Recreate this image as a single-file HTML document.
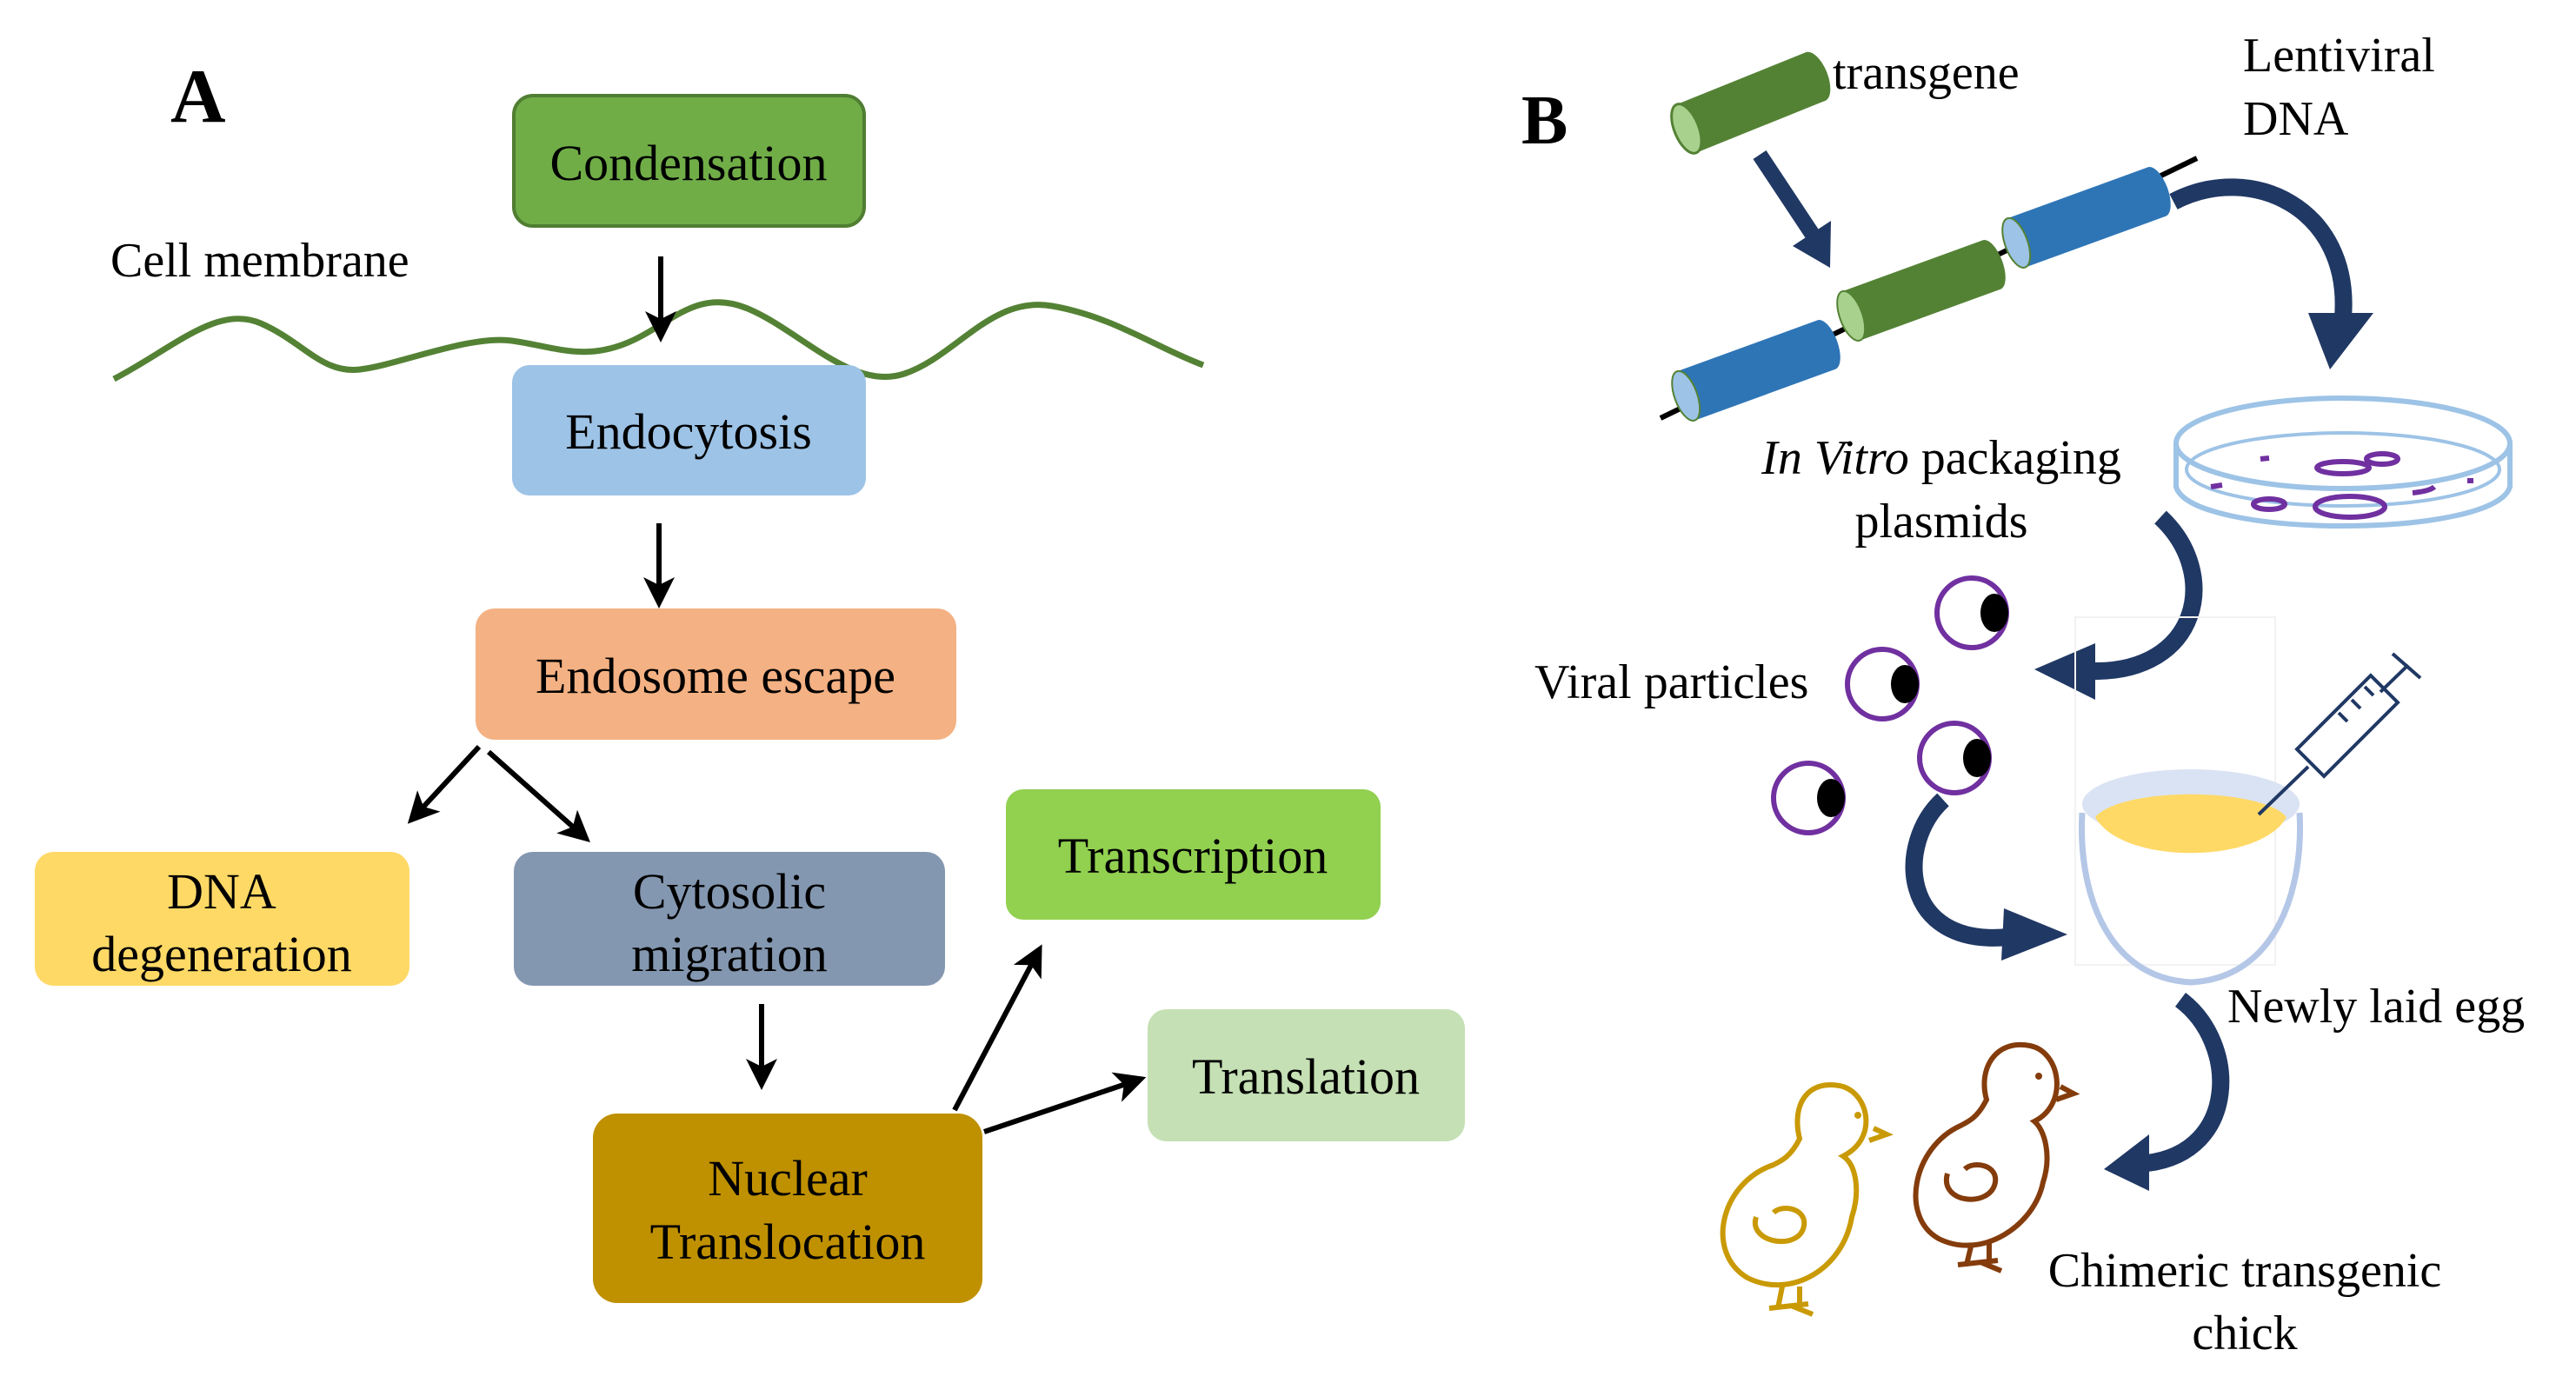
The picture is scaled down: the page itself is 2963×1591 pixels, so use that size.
<!DOCTYPE html>
<html><head><meta charset="utf-8"><style>
html,body{margin:0;padding:0;background:#fff;}
svg{display:block;}
svg text{font-family:"Liberation Serif","Times New Roman","DejaVu Serif",serif;fill:#000;}
</style></head><body>
<svg width="2963" height="1591" viewBox="0 0 2963 1591" xmlns="http://www.w3.org/2000/svg" font-family="Liberation Serif, Times New Roman, DejaVu Serif, serif">
<defs>
<marker id="ah" markerWidth="6" markerHeight="6" refX="4" refY="3" orient="auto" markerUnits="strokeWidth">
<path d="M0,0 L6,3 L0,6 L1.5,3 z" fill="#000"/></marker>
</defs>
<!-- Panel A -->
<text x="196" y="140" font-size="88" font-weight="bold">A</text>
<rect x="591" y="110" width="403" height="150" rx="22" fill="#70ad47" stroke="#507e32" stroke-width="4"/>
<text x="792" y="207" font-size="58" text-anchor="middle">Condensation</text>
<text x="127" y="318" font-size="56">Cell membrane</text>
<path d="M131,436 C200,400 250,350 300,372 S370,430 414,425 S540,385 589,392 S670,415 720,395 S800,330 860,355 S980,450 1040,430 S1140,340 1210,352 S1330,400 1384,420" fill="none" stroke="#548235" stroke-width="7"/>
<line x1="760" y1="295" x2="760" y2="382" stroke="#000" stroke-width="6" marker-end="url(#ah)"/>
<rect x="589" y="420" width="407" height="150" rx="20" fill="#9dc3e6"/>
<text x="792" y="516" font-size="58" text-anchor="middle">Endocytosis</text>
<line x1="758" y1="602" x2="758" y2="688" stroke="#000" stroke-width="6" marker-end="url(#ah)"/>
<rect x="547" y="700" width="553" height="151" rx="22" fill="#f4b183"/>
<text x="823" y="797" font-size="58" text-anchor="middle">Endosome escape</text>
<line x1="551" y1="859" x2="477" y2="939" stroke="#000" stroke-width="6" marker-end="url(#ah)"/>
<line x1="562" y1="865" x2="670" y2="961" stroke="#000" stroke-width="6" marker-end="url(#ah)"/>
<rect x="40" y="980" width="431" height="154" rx="22" fill="#ffd966"/>
<text x="255" y="1045" font-size="58" text-anchor="middle">DNA</text>
<text x="255" y="1117" font-size="58" text-anchor="middle">degeneration</text>
<rect x="591" y="980" width="496" height="154" rx="22" fill="#8497b0"/>
<text x="839" y="1045" font-size="58" text-anchor="middle">Cytosolic</text>
<text x="839" y="1117" font-size="58" text-anchor="middle">migration</text>
<line x1="876" y1="1155" x2="876" y2="1242" stroke="#000" stroke-width="6" marker-end="url(#ah)"/>
<rect x="682" y="1281" width="448" height="218" rx="28" fill="#bf9000"/>
<text x="906" y="1375" font-size="58" text-anchor="middle">Nuclear</text>
<text x="906" y="1448" font-size="58" text-anchor="middle">Translocation</text>
<rect x="1157" y="908" width="431" height="150" rx="20" fill="#92d050"/>
<text x="1372" y="1004" font-size="58" text-anchor="middle">Transcription</text>
<rect x="1320" y="1161" width="365" height="152" rx="22" fill="#c5e0b4"/>
<text x="1502" y="1258" font-size="58" text-anchor="middle">Translation</text>
<line x1="1098" y1="1277" x2="1193" y2="1097" stroke="#000" stroke-width="6" marker-end="url(#ah)"/>
<line x1="1132" y1="1302" x2="1307" y2="1243" stroke="#000" stroke-width="6" marker-end="url(#ah)"/>

<!-- Panel B -->
<text x="1750" y="165" font-size="80" font-weight="bold">B</text>
<g transform="translate(2014,118) rotate(-22)">
<rect x="-80" y="-30" width="160" height="60" fill="#548235"/>
<ellipse cx="-80" cy="0" rx="14" ry="30" fill="#a9d18e" stroke="#548235" stroke-width="3"/>
<ellipse cx="80" cy="0" rx="14" ry="30" fill="#548235"/>
</g>
<text x="2108" y="102" font-size="56">transgene</text>
<text x="2580" y="82" font-size="56">Lentiviral</text>
<text x="2580" y="155" font-size="56">DNA</text>
<line x1="2024" y1="178" x2="2085" y2="270" stroke="#203864" stroke-width="18"/>
<polygon points="2062,283 2106,254 2105,308" fill="#203864"/>
<line x1="1910" y1="481" x2="2527" y2="182" stroke="#000" stroke-width="6"/>
<g transform="translate(2020,426) rotate(-20)">
<rect x="-86" y="-30" width="172" height="60" fill="#2e75b6"/>
<ellipse cx="-86" cy="0" rx="13" ry="30" fill="#9dc3e6" stroke="#548235" stroke-width="2"/>
<ellipse cx="86" cy="0" rx="13" ry="30" fill="#2e75b6"/>
</g>
<g transform="translate(2210,334) rotate(-20)">
<rect x="-86" y="-30" width="172" height="60" fill="#548235"/>
<ellipse cx="-86" cy="0" rx="13" ry="30" fill="#a9d18e" stroke="#548235" stroke-width="2"/>
<ellipse cx="86" cy="0" rx="13" ry="30" fill="#548235"/>
</g>
<g transform="translate(2400,250) rotate(-20)">
<rect x="-86" y="-30" width="172" height="60" fill="#2e75b6"/>
<ellipse cx="-86" cy="0" rx="13" ry="30" fill="#9dc3e6" stroke="#548235" stroke-width="2"/>
<ellipse cx="86" cy="0" rx="13" ry="30" fill="#2e75b6"/>
</g>
<!-- curved arrow 1 -->
<path d="M2500,232 C2590,185 2705,240 2695,365" fill="none" stroke="#203864" stroke-width="20"/>
<polygon points="2655,360 2730,360 2680,425" fill="#203864"/>
<!-- petri dish -->
<g fill="none" stroke="#9dc3e6" stroke-width="6">
<ellipse cx="2695" cy="510" rx="192" ry="52"/>
<path d="M2503,510 L2503,560 C2520,620 2870,620 2887,560 L2887,510"/>
<ellipse cx="2695" cy="540" rx="180" ry="42" stroke-width="4"/>
</g>
<g fill="none" stroke="#7030a0" stroke-width="6">
<ellipse cx="2695" cy="538" rx="30" ry="7"/>
<ellipse cx="2740" cy="528" rx="18" ry="6"/>
<ellipse cx="2610" cy="580" rx="18" ry="6"/>
<ellipse cx="2703" cy="583" rx="40" ry="12"/>
<path d="M2775,567 Q2795,565 2800,560"/>
<line x1="2543" y1="560" x2="2556" y2="558"/>
<line x1="2600" y1="528" x2="2610" y2="527"/>
<line x1="2838" y1="553" x2="2845" y2="553"/>
</g>
<text x="2233" y="545" font-size="56" text-anchor="middle"><tspan font-style="italic">In Vitro</tspan> packaging</text>
<text x="2233" y="618" font-size="56" text-anchor="middle">plasmids</text>
<!-- curved arrow 2 -->
<path d="M2485,595 C2555,660 2530,775 2405,772" fill="none" stroke="#203864" stroke-width="20"/>
<polygon points="2410,740 2410,805 2340,770" fill="#203864"/>
<!-- viral particles -->
<g fill="none" stroke="#7030a0" stroke-width="6">
<circle cx="2268" cy="705" r="40"/><circle cx="2165" cy="787" r="40"/>
<circle cx="2248" cy="872" r="40"/><circle cx="2080" cy="918" r="40"/>
</g>
<g fill="#000">
<ellipse cx="2294" cy="705" rx="16" ry="22"/><ellipse cx="2191" cy="787" rx="16" ry="22"/>
<ellipse cx="2274" cy="872" rx="16" ry="22"/><ellipse cx="2106" cy="918" rx="16" ry="22"/>
</g>
<text x="1765" y="803" font-size="56">Viral particles</text>
<!-- curved arrow 3 -->
<path d="M2235,920 C2180,970 2185,1090 2310,1078" fill="none" stroke="#203864" stroke-width="20"/>
<polygon points="2305,1045 2378,1075 2302,1105" fill="#203864"/>
<!-- egg -->
<rect x="2387" y="710" width="230" height="400" fill="none" stroke="#f2f2f2" stroke-width="2"/>
<ellipse cx="2520" cy="925" rx="125" ry="40" fill="#dae3f3"/>
<path d="M2410,940 C2440,905 2600,905 2630,940 C2600,995 2440,995 2410,940z" fill="#ffd966"/>
<path d="M2395,935 C2390,1020 2420,1125 2520,1130 C2620,1125 2650,1020 2645,935" fill="none" stroke="#b4c7e7" stroke-width="7"/>
<g stroke="#203864" stroke-width="4" fill="none">
<line x1="2598" y1="937" x2="2655" y2="882"/>
<rect x="-22" y="-60" width="44" height="120" transform="translate(2700,835) rotate(45)"/>
<line x1="2738" y1="796" x2="2770" y2="765"/>
<line x1="2752" y1="752" x2="2784" y2="780"/>
<line x1="2690" y1="820" x2="2700" y2="830"/><line x1="2705" y1="805" x2="2715" y2="815"/><line x1="2720" y1="790" x2="2730" y2="800"/>
</g>
<text x="2562" y="1176" font-size="56">Newly laid egg</text>
<!-- curved arrow 4 -->
<path d="M2508,1150 C2575,1200 2575,1325 2470,1338" fill="none" stroke="#203864" stroke-width="20"/>
<polygon points="2472,1305 2472,1370 2420,1345" fill="#203864"/>
<!-- chicks -->
<g fill="none" stroke="#c99a06" stroke-width="6">
<path d="M2040,1340 C1980,1360 1960,1440 2010,1470 C2060,1495 2120,1460 2130,1400 C2140,1370 2135,1340 2120,1330 C2160,1310 2150,1260 2120,1250 C2080,1240 2060,1270 2070,1310 C2060,1330 2050,1335 2040,1340z"/>
<path d="M2020,1400 C2010,1430 2070,1440 2075,1410 C2078,1390 2050,1385 2040,1395"/>
<path d="M2155,1298 L2170,1305 L2150,1312"/>
<path d="M2050,1480 L2045,1505 M2070,1480 L2070,1502 M2035,1505 L2080,1500 M2060,1502 L2085,1512"/>
</g>
<circle cx="2137" cy="1283" r="4" fill="#c99a06"/>
<g fill="none" stroke="#843c0c" stroke-width="6">
<path d="M2255,1295 C2200,1320 2185,1400 2230,1425 C2280,1450 2340,1410 2350,1360 C2360,1330 2352,1300 2340,1290 C2380,1270 2370,1210 2335,1203 C2295,1195 2275,1230 2285,1265 C2275,1285 2265,1290 2255,1295z"/>
<path d="M2240,1350 C2230,1385 2290,1390 2295,1360 C2298,1340 2270,1335 2260,1345"/>
<path d="M2370,1250 L2385,1258 L2365,1265"/>
<path d="M2268,1430 L2262,1455 M2288,1430 L2288,1452 M2252,1455 L2298,1450 M2278,1452 L2302,1462"/>
</g>
<circle cx="2345" cy="1238" r="4" fill="#843c0c"/>
<text x="2582" y="1480" font-size="56" text-anchor="middle">Chimeric transgenic</text>
<text x="2582" y="1552" font-size="56" text-anchor="middle">chick</text>
</svg>
</body></html>
